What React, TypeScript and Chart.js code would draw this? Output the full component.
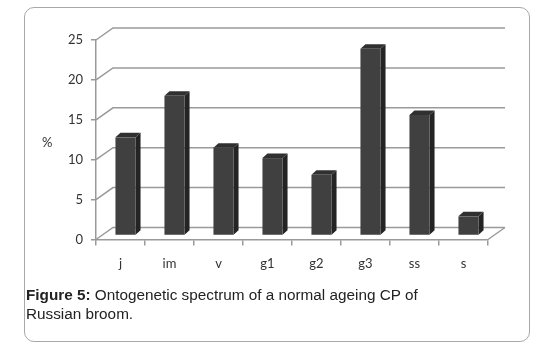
import React, { useEffect, useRef } from "react";
import { Chart, registerables } from "chart.js";

Chart.register(...registerables);

const categories = ["j", "im", "v", "g1", "g2", "g3", "ss", "s"];
const percentValues = [12.3, 17.5, 11.0, 9.7, 7.6, 23.4, 15.1, 2.4];
const yMin = 0;
const yMax = 25;
const yStep = 5;
const yAxisLabel = "%";
const captionBold = "Figure 5:";
const captionText = " Ontogenetic spectrum of a normal ageing CP of Russian broom.";

const WALL_DX = 17;
const WALL_DY = -12;
const BAR_OFF_X = 5;
const BAR_OFF_Y = -4;
const BAR_DX = 5;
const BAR_DY = -4.5;
const GRID_COLOR = "#9a9a9a";

const wall3d = {
  id: "wall3d",
  beforeDatasetsDraw(chart: any) {
    const { ctx, chartArea } = chart;
    const ys = chart.scales.y;
    ctx.save();
    ctx.strokeStyle = GRID_COLOR;
    ctx.lineWidth = 1.5;
    for (let v = yMin; v <= yMax; v += yStep) {
      const yF = ys.getPixelForValue(v);
      ctx.beginPath();
      ctx.moveTo(chartArea.left, yF);
      ctx.lineTo(chartArea.left + WALL_DX, yF + WALL_DY);
      ctx.lineTo(chartArea.right + WALL_DX, yF + WALL_DY);
      ctx.stroke();
    }
    const yb = ys.getPixelForValue(yMin);
    ctx.beginPath();
    ctx.moveTo(chartArea.right, yb);
    ctx.lineTo(chartArea.right + WALL_DX, yb + WALL_DY);
    ctx.stroke();
    ctx.restore();
  },
  afterDatasetsDraw(chart: any) {
    const { ctx } = chart;
    const meta = chart.getDatasetMeta(0);
    ctx.save();
    meta.data.forEach((el: any) => {
      const w = el.width;
      const l = el.x - w / 2 + BAR_OFF_X;
      const r = el.x + w / 2 + BAR_OFF_X;
      const t = el.y + BAR_OFF_Y;
      const b = el.base + BAR_OFF_Y;
      // side
      ctx.fillStyle = "#242424";
      ctx.beginPath();
      ctx.moveTo(r, t);
      ctx.lineTo(r + BAR_DX, t + BAR_DY);
      ctx.lineTo(r + BAR_DX, b + BAR_DY);
      ctx.lineTo(r, b);
      ctx.closePath();
      ctx.fill();
      // top
      ctx.fillStyle = "#303030";
      ctx.beginPath();
      ctx.moveTo(l, t);
      ctx.lineTo(l + BAR_DX, t + BAR_DY);
      ctx.lineTo(r + BAR_DX, t + BAR_DY);
      ctx.lineTo(r, t);
      ctx.closePath();
      ctx.fill();
      // front
      ctx.fillStyle = "#404040";
      ctx.fillRect(l, t, r - l, b - t);
    });
    ctx.restore();
  },
};

export default function App() {
  const ref = useRef<HTMLCanvasElement | null>(null);
  useEffect(() => {
    document.body.style.margin = "0";
    if (!ref.current) return;
    const chart = new Chart(ref.current, {
      type: "bar",
      data: {
        labels: categories,
        datasets: [
          {
            data: percentValues,
            backgroundColor: "rgba(0,0,0,0)",
            borderWidth: 0,
            categoryPercentage: 1,
            barPercentage: 0.41,
          },
        ],
      },
      options: {
        animation: false,
        responsive: false,
        events: [],
        layout: { padding: { left: 0, right: 56, top: 40, bottom: 0 } },
        plugins: { legend: { display: false }, tooltip: { enabled: false } },
        scales: {
          x: {
            afterFit: (s: any) => {
              s.height = 114.5;
            },
            grid: {
              display: true,
              drawOnChartArea: false,
              drawTicks: true,
              tickLength: 6,
              offset: true,
              color: GRID_COLOR,
              lineWidth: 1.5,
            },
            border: { display: true, color: GRID_COLOR, width: 1.5 },
            ticks: {
              padding: 11,
              color: "#333333",
              font: { family: "Lato", size: 13 },
              maxRotation: 0,
            },
          },
          y: {
            min: yMin,
            max: yMax,
            afterFit: (s: any) => {
              s.width = 96;
            },
            grid: {
              display: true,
              drawOnChartArea: false,
              drawTicks: true,
              tickLength: 5,
              color: GRID_COLOR,
              lineWidth: 1.5,
            },
            border: { display: true, color: GRID_COLOR, width: 1.5 },
            ticks: {
              stepSize: yStep,
              padding: 8,
              color: "#333333",
              font: { family: "Lato", size: 13 },
            },
          },
        },
      },
      plugins: [wall3d],
    });
    return () => chart.destroy();
  }, []);

  return (
    <div style={{ position: "relative", width: 544, height: 354, background: "#fff" }}>
      <div
        style={{
          position: "absolute",
          left: 24,
          top: 7,
          width: 506,
          height: 335,
          border: "1px solid #a8a8a8",
          borderRadius: 10,
          boxSizing: "border-box",
        }}
      />
      <canvas ref={ref} width={544} height={354} style={{ position: "absolute", left: 0, top: 0 }} />
      <span
        style={{
          position: "absolute",
          left: 42,
          top: 134,
          fontFamily: "Lato",
          fontSize: 13,
          color: "#333",
        }}
      >
        {yAxisLabel}
      </span>
      <div
        style={{
          position: "absolute",
          left: 26,
          top: 285,
          width: 430,
          fontFamily: "'Liberation Sans', Arial, sans-serif",
          fontSize: 15.3,
          lineHeight: "19px",
          color: "#222",
        }}
      >
        <b>{captionBold}</b>
        {captionText}
      </div>
    </div>
  );
}
